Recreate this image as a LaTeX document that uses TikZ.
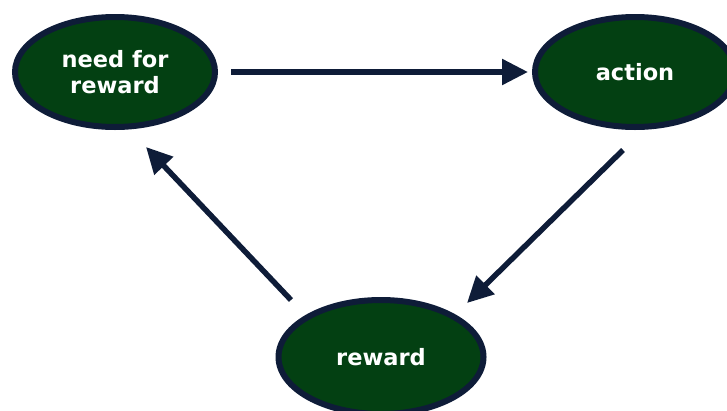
\documentclass[tikz,border=0pt]{standalone}
\usepackage{fontspec}
\setmainfont{DejaVu Sans}
\usetikzlibrary{arrows.meta,shapes.geometric}
\definecolor{nodegreen}{RGB}{3,64,18}
\definecolor{navy}{RGB}{14,28,56}
\tikzset{
  state/.style={ellipse, draw=navy, fill=nodegreen, line width=6pt, inner sep=0pt,
    text=white, font=\fontsize{22.5}{25.6}\selectfont\bfseries, align=center},
  conn/.style={draw=navy, line width=5.5pt, -{Triangle[length=26pt,width=25pt]}}
}
\begin{document}
\begin{tikzpicture}[x=1pt,y=-1pt]
\useasboundingbox (0,0) rectangle (727,410);
\clip (0,0) rectangle (727,410);
\node[state, minimum width=200pt, minimum height=110pt] (need) at (115,72) {need for\\reward};
\node[state, minimum width=200pt, minimum height=110pt] (action) at (635,72) {action};
\node[state, minimum width=205pt, minimum height=114pt] (reward) at (381,357) {reward};
\coordinate (a1s) at (231,72);
\coordinate (a1e) at (528,72);
\coordinate (a2s) at (623,150);
\coordinate (a2e) at (467,303);
\coordinate (a3s) at (291,300);
\coordinate (a3e) at (146,147);
\draw[conn] (a1s) -- (a1e);
\draw[conn] (a2s) -- (a2e);
\draw[conn] (a3s) -- (a3e);
\end{tikzpicture}
\end{document}
